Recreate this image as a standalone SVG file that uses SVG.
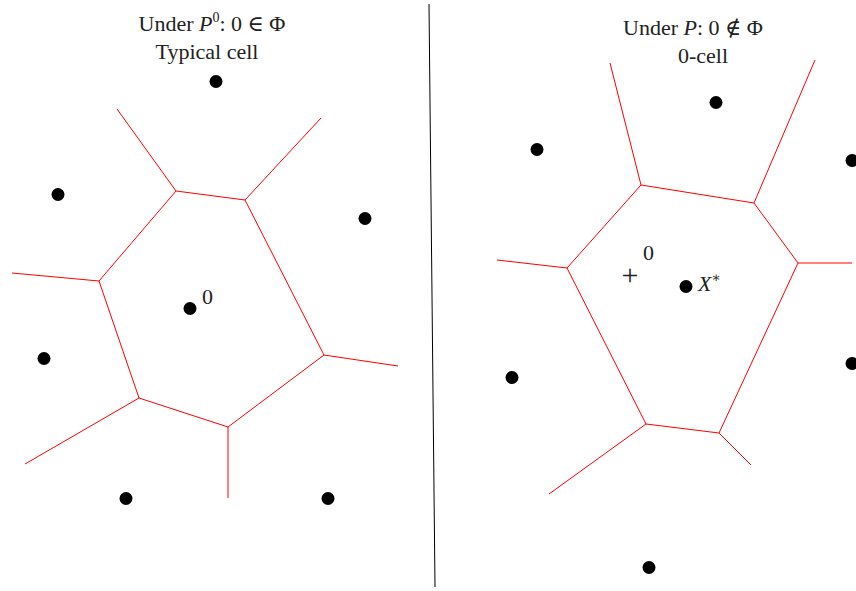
<svg xmlns="http://www.w3.org/2000/svg" width="856" height="591" viewBox="0 0 856 591">
<style>
.e{stroke:#ff0000;stroke-width:1;fill:none}
.d{fill:#000}
.t{font-family:"Liberation Serif","DejaVu Serif",serif;font-size:22px;fill:#222}
.i{font-style:italic}
</style>
<rect width="856" height="591" fill="#fff"/>
<g id="connectors">
<line x1="429" y1="4" x2="435" y2="587" stroke="#000" stroke-width="1"/>
<polygon class="e" points="176,191 245,200 324,355 228,427 139,398 99,281"/>
<path class="e" d="M176,191L117,109M245,200L321,118M324,355L398,366M228,427L228,498M139,398L25,464M99,281L12,273"/>
<polygon class="e" points="641,185 754,203 798,263 719,433 646,424 567,268"/>
<path class="e" d="M641,185L610,63M754,203L815,60M798,263L852,263M719,433L751,465M646,424L549,494M567,268L497,260"/>
</g>
<g id="left-points">
<circle class="d" cx="216" cy="81.5" r="6.5"/>
<circle class="d" cx="58" cy="194.5" r="6.5"/>
<circle class="d" cx="365" cy="218.5" r="6.5"/>
<circle class="d" cx="190" cy="308.5" r="6.5"/>
<circle class="d" cx="44" cy="358.5" r="6.5"/>
<circle class="d" cx="126" cy="498.5" r="6.5"/>
<circle class="d" cx="328" cy="498.5" r="6.5"/>
</g>
<g id="right-points">
<circle class="d" cx="716" cy="102.5" r="6.5"/>
<circle class="d" cx="537" cy="149.5" r="6.5"/>
<circle class="d" cx="852" cy="160.5" r="6.5"/>
<circle class="d" cx="686" cy="286.5" r="6.5"/>
<circle class="d" cx="512" cy="377.5" r="6.5"/>
<circle class="d" cx="852" cy="363.5" r="6.5"/>
<circle class="d" cx="649" cy="567.5" r="6.5"/>
</g>
<g id="left-title">
<text class="t" x="212" y="31" text-anchor="middle">Under <tspan class="i">P</tspan><tspan style="font-size:14px" dy="-9">0</tspan><tspan dy="9">: 0 ∈ Φ</tspan></text>
<text class="t" x="207" y="59" text-anchor="middle">Typical cell</text>
</g>
<g id="right-title">
<text class="t" x="693" y="35" text-anchor="middle">Under <tspan class="i">P</tspan>: 0 ∉ Φ</text>
<text class="t" x="703" y="63" text-anchor="middle">0-cell</text>
</g>
<g id="labels">
<text class="t" x="202" y="304">0</text>
<text class="t" x="630" y="285" text-anchor="middle" style="font-size:30px">+</text>
<text class="t" x="643" y="260">0</text>
<text class="t" x="698" y="291"><tspan class="i">X</tspan><tspan style="font-size:14px" dy="-9">∗</tspan></text>
</g>
</svg>
